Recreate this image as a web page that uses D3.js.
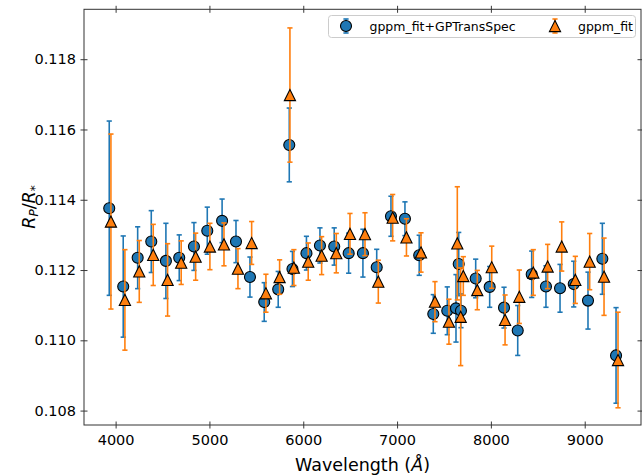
<!DOCTYPE html>
<html>
<head>
<meta charset="utf-8">
<script src="https://cdn.jsdelivr.net/npm/d3@7"></script>
<style>
  body { margin: 0; background: #fff; }
  text { font-family: "DejaVu Sans", sans-serif; }
</style>
</head>
<body>
<svg id="chart" width="642" height="475"></svg>
<script>
// gppm_fit+GPTransSpec (blue circles)
let wlGp = [3932, 4081, 4235, 4380, 4536, 4678, 4835, 4977, 5135, 5283, 5432, 5584, 5733, 5851, 5885, 6034, 6178, 6330, 6484, 6636,
            6783, 6935, 7084, 7236, 7386, 7535, 7628, 7657, 7681, 7838, 7987, 8140, 8286, 8435, 8587, 8737, 8883, 9035, 9188, 9334]
let rpGp = [0.11376, 0.11153, 0.11235, 0.11281, 0.11226, 0.11235, 0.11267, 0.11312, 0.11340, 0.11281, 0.11180, 0.11109, 0.11145, 0.11556,
            0.11203, 0.11248, 0.11270, 0.11267, 0.11248, 0.11248, 0.11208, 0.11353, 0.11346, 0.11242, 0.11075, 0.11084, 0.11091, 0.11217,
            0.11084, 0.11176, 0.11152, 0.11093, 0.11028, 0.11188, 0.11153, 0.11148, 0.11160, 0.11113, 0.11232, 0.10957]
let errGp = [0.00248, 0.00144, 0.00088, 0.00088, 0.00107, 0.00065, 0.00068, 0.00067, 0.00062, 0.00060, 0.00057, 0.00055, 0.00051, 0.00105,
             0.00050, 0.00048, 0.00050, 0.00053, 0.00057, 0.00068, 0.00051, 0.00057, 0.00048, 0.00057, 0.00055, 0.00068, 0.00096, 0.00090,
             0.00048, 0.00055, 0.00058, 0.00058, 0.00071, 0.00066, 0.00059, 0.00068, 0.00065, 0.00081, 0.00101, 0.00136]

// gppm_fit (orange triangles)
let wlFit = [3950, 4099, 4252, 4401, 4554, 4699, 4853, 5005, 5155, 5304, 5450, 5602, 5748, 5858, 5900, 6053, 6196, 6352, 6498, 6658,
             6800, 6953, 7100, 7255, 7404, 7553, 7642, 7678, 7706, 7855, 8009, 8151, 8303, 8452, 8605, 8755, 8900, 9053, 9206, 9355]
let rpFit = [0.11338, 0.11115, 0.11196, 0.11243, 0.11172, 0.11221, 0.11238, 0.11267, 0.11273, 0.11204, 0.11277, 0.11134, 0.11180, 0.11698,
             0.11207, 0.11224, 0.11241, 0.11248, 0.11303, 0.11302, 0.11167, 0.11349, 0.11293, 0.11250, 0.11110, 0.11053, 0.11276, 0.11067,
             0.11183, 0.11143, 0.11208, 0.11058, 0.11124, 0.11193, 0.11210, 0.11267, 0.11172, 0.11224, 0.11181, 0.10944]
let errFit = [0.00249, 0.00143, 0.00088, 0.00087, 0.00103, 0.00062, 0.00067, 0.00066, 0.00061, 0.00057, 0.00061, 0.00054, 0.00049, 0.00191,
              0.00051, 0.00053, 0.00054, 0.00056, 0.00058, 0.00061, 0.00061, 0.00066, 0.00053, 0.00056, 0.00057, 0.00064, 0.00161, 0.00139,
              0.00055, 0.00056, 0.00060, 0.00071, 0.00076, 0.00065, 0.00063, 0.00070, 0.00067, 0.00080, 0.00110, 0.00136]

let xTicks = [4000, 5000, 6000, 7000, 8000, 9000]
let yTicks = [0.108, 0.110, 0.112, 0.114, 0.116, 0.118]

let svg = d3.select("#chart")
let box = { left: 84, right: 641, top: 9.3, bottom: 425 }

let x = d3.scaleLinear().domain([3663, 9600]).range([box.left, box.right])
let y = d3.scaleLinear().domain([0.10759, 0.11942]).range([box.bottom, box.top])

let blue = "#1f77b4", orange = "#ff7f0e"

// axes, ticks on all four sides (in-out)
function inout(g, dir) {
  g.selectAll(".domain").remove()
  g.selectAll(".tick line").attr("stroke", "#222").attr("stroke-width", 0.9)
  if (dir == "x") g.selectAll(".tick line").attr("y1", -3.5).attr("y2", 3.5)
  else g.selectAll(".tick line").attr("x1", -3.5).attr("x2", 3.5)
}

svg.append("g")
  .attr("transform", `translate(0,${box.bottom})`)
  .call(d3.axisBottom(x).tickValues(xTicks).tickSize(3.5).tickPadding(5.8).tickFormat(d3.format("d")))
  .call(g => inout(g, "x"))
  .call(g => g.selectAll("text").attr("font-size", "14.5px").attr("fill", "#000").attr("font-family", "DejaVu Sans"))

svg.append("g")
  .attr("transform", `translate(0,${box.top})`)
  .call(d3.axisTop(x).tickValues(xTicks).tickSize(3.5).tickFormat(""))
  .call(g => inout(g, "x"))

svg.append("g")
  .attr("transform", `translate(${box.left},0)`)
  .call(d3.axisLeft(y).tickValues(yTicks).tickSize(3.5).tickPadding(4.5).tickFormat(d3.format(".3f")))
  .call(g => inout(g, "y"))
  .call(g => g.selectAll("text").attr("font-size", "14.5px").attr("fill", "#000").attr("font-family", "DejaVu Sans"))

svg.append("g")
  .attr("transform", `translate(${box.right},0)`)
  .call(d3.axisRight(y).tickValues(yTicks).tickSize(3.5).tickFormat(""))
  .call(g => inout(g, "y"))

svg.append("rect")
  .attr("x", box.left).attr("y", box.top)
  .attr("width", box.right - box.left).attr("height", box.bottom - box.top)
  .attr("fill", "none").attr("stroke", "#333").attr("stroke-width", 1)

// error bar series
function errSeries(wl, rp, err, color, shape) {
  let rows = wl.map((w, i) => ({ w: w, v: rp[i], e: err[i] }))
  let g = svg.append("g")
  let bars = g.selectAll(".bar").data(rows).join("g")
  bars.append("line")
    .attr("x1", d => x(d.w)).attr("x2", d => x(d.w))
    .attr("y1", d => y(d.v - d.e)).attr("y2", d => y(d.v + d.e))
    .attr("stroke", color).attr("stroke-width", 1.6)
  bars.append("line")
    .attr("x1", d => x(d.w) - 2.6).attr("x2", d => x(d.w) + 2.6)
    .attr("y1", d => y(d.v - d.e)).attr("y2", d => y(d.v - d.e))
    .attr("stroke", color).attr("stroke-width", 1.6)
  bars.append("line")
    .attr("x1", d => x(d.w) - 2.6).attr("x2", d => x(d.w) + 2.6)
    .attr("y1", d => y(d.v + d.e)).attr("y2", d => y(d.v + d.e))
    .attr("stroke", color).attr("stroke-width", 1.6)
  g.selectAll(".mk").data(rows).join("path")
    .attr("class", "mk")
    .attr("d", shape)
    .attr("transform", d => `translate(${x(d.w)},${y(d.v)})`)
    .attr("fill", color).attr("stroke", "#000").attr("stroke-width", 1.1)
}

let circlePath = d3.symbol(d3.symbolCircle, Math.PI * 5.5 * 5.5)()
let triPath = "M0,-5.6L5.6,5.6L-5.6,5.6Z"

errSeries(wlGp, rpGp, errGp, blue, circlePath)
errSeries(wlFit, rpFit, errFit, orange, triPath)

// legend
let leg = svg.append("g")
leg.append("rect")
  .attr("x", 328.5).attr("y", 15.5).attr("width", 307).attr("height", 22).attr("rx", 3)
  .attr("fill", "#fff").attr("fill-opacity", 0.8).attr("stroke", "#ccc").attr("stroke-width", 1)

let legItems = [
  { label: "gppm_fit+GPTransSpec", color: blue, shape: circlePath, mx: 346, tx: 369.5 },
  { label: "gppm_fit", color: orange, shape: triPath, mx: 555, tx: 578 }
]
legItems.forEach(it => {
  leg.append("line").attr("x1", it.mx).attr("x2", it.mx).attr("y1", 19).attr("y2", 33)
    .attr("stroke", it.color).attr("stroke-width", 1.6)
  leg.append("line").attr("x1", it.mx - 2.6).attr("x2", it.mx + 2.6).attr("y1", 19).attr("y2", 19)
    .attr("stroke", it.color).attr("stroke-width", 1.6)
  leg.append("line").attr("x1", it.mx - 2.6).attr("x2", it.mx + 2.6).attr("y1", 33).attr("y2", 33)
    .attr("stroke", it.color).attr("stroke-width", 1.6)
  leg.append("path").attr("d", it.shape).attr("transform", `translate(${it.mx},26)`)
    .attr("fill", it.color).attr("stroke", "#000").attr("stroke-width", 1.1)
  leg.append("text").attr("x", it.tx).attr("y", 30.5)
    .attr("font-size", "12.5px").attr("fill", "#000").text(it.label)
})

// axis labels
svg.append("text")
  .attr("x", (box.left + box.right) / 2).attr("y", 471)
  .attr("text-anchor", "middle").attr("font-size", "17.5px")
  .html('Wavelength (<tspan font-style="italic">Å</tspan>)')

let yl = svg.append("text")
  .attr("transform", "translate(35,207) rotate(-90)")
  .attr("text-anchor", "middle").attr("font-size", "17.5px")
yl.append("tspan").attr("font-style", "italic").text("R")
yl.append("tspan").attr("font-style", "italic").attr("font-size", "12px").attr("dy", 3).text("P")
yl.append("tspan").attr("dy", -3).text("/")
yl.append("tspan").attr("font-style", "italic").text("R")
yl.append("tspan").attr("font-size", "12px").attr("dy", 4).text("*")
</script>
</body>
</html>
